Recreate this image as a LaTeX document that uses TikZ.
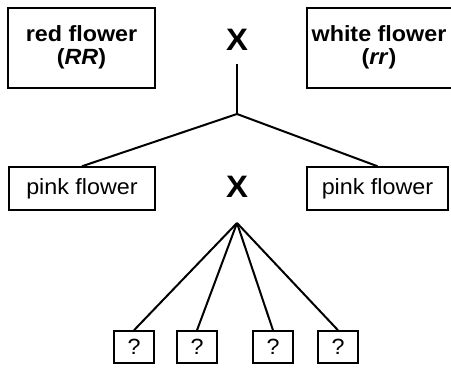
\documentclass[tikz,border=0pt]{standalone}
\usepackage{fontspec}
\setmainfont{Liberation Sans}[FakeStretch=1.06]
\begin{document}
\begin{tikzpicture}[x=1pt,y=-1pt,
  bigbox/.style={draw,line width=2pt,inner sep=0pt,align=center,font=\fontsize{22}{23}\selectfont\bfseries},
  bigtext/.style={inner sep=0pt,align=center,font=\fontsize{22}{23}\selectfont\bfseries},
  pinkbox/.style={draw,line width=1.5pt,inner sep=0pt,minimum width=146pt,minimum height=43pt,font=\fontsize{22}{23}\selectfont},
  qbox/.style={draw,line width=1.5pt,inner sep=0pt,minimum width=40pt,minimum height=32pt,font=\fontsize{22}{23}\selectfont},
  cross/.style={inner sep=0pt,font=\fontsize{31}{32}\selectfont\bfseries},
  conn/.style={line width=2pt}]
\useasboundingbox (0,0) rectangle (451,372);
\node[bigbox,minimum width=147pt,minimum height=80pt] (red) at (81.5,47.5) {red flower\\(\textit{RR})};
\node[bigbox,minimum width=152pt,minimum height=80pt] (white) at (383,47.5) {};
\node[bigtext] (whitet) at (379,47.5) {white flower\\(\textit{rr})};
\node[cross] (x1) at (237,40) {X};
\node[pinkbox] (p1) at (82,188.5) {pink flower};
\node[pinkbox,minimum width=141pt] (p2) at (377.5,188.5) {pink flower};
\node[cross] (x2) at (237,187) {X};
\node[qbox] (q1) at (134,347) {?};
\node[qbox] (q2) at (197,347) {?};
\node[qbox] (q3) at (273,347) {?};
\node[qbox] (q4) at (338,347) {?};
\coordinate (t) at (237,64);
\coordinate (j) at (237,114);
\coordinate (f) at (237,223);
\draw[conn] (t) -- (j);
\draw[conn] (j) -- (p1.north);
\draw[conn] (j) -- (p2.north);
\foreach \q in {q1,q2,q3,q4} \draw[conn] (f) -- (\q.north);
\end{tikzpicture}
\end{document}
